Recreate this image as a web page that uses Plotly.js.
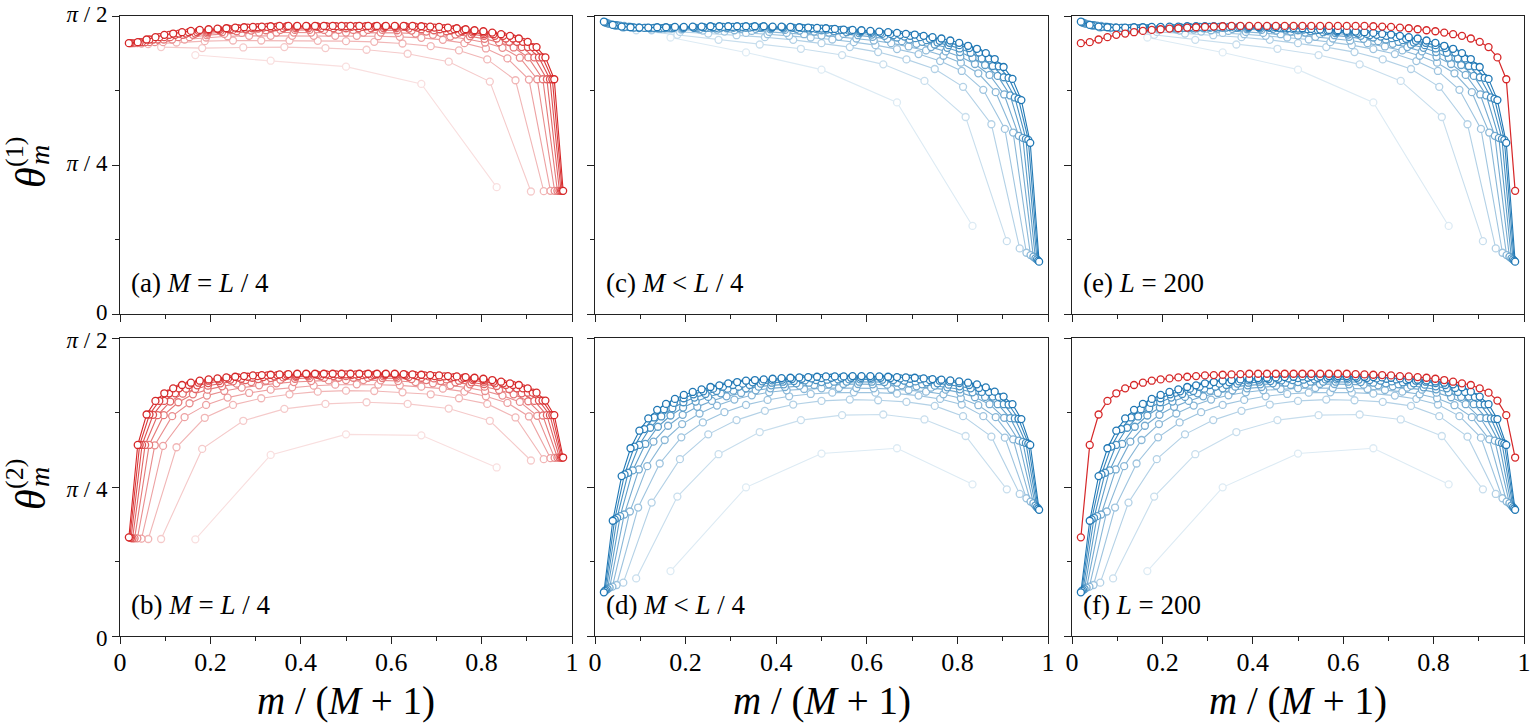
<!DOCTYPE html>
<html>
<head>
<meta charset="utf-8">
<script src="https://cdn.plot.ly/plotly-3.0.1.min.js"></script>
<style>html,body{margin:0;padding:0;background:#fff;}#chart{width:1538px;height:724px;}</style>
</head>
<body>
<div id="chart"></div>
<script>
// number of modes M in each series (x = m/(M+1), m = 1..M)
const M_VALUES = [5, 10, 15, 20, 25, 30, 35, 40, 45, 50];

// ---- theta^(1), M = L/4 (red), values in degrees ----
const r1_5  = [78.2, 76.5, 74.7, 69.5, 38.3];
const r1_10 = [80.6, 80.3, 80.5, 80.6, 80.3, 79.8, 78.6, 76.2, 70.2, 37.0];
const r1_15 = [81.5, 82.0, 82.4, 82.6, 82.6, 82.6, 82.5, 82.4, 82.2, 81.7,
               80.9, 79.6, 76.9, 70.6, 37.1];
const r1_20 = [81.7, 82.1, 82.9, 83.5, 83.9, 84.0, 84.0, 84.0, 84.0, 84.0,
               84.0, 83.9, 83.7, 83.4, 82.8, 81.8, 80.2, 77.2, 70.8, 37.2];
const r1_25 = [81.8, 82.1, 82.9, 83.6, 84.2, 84.6, 84.9, 85.0, 85.0, 85.0,
               85.0, 85.0, 85.0, 85.0, 85.0, 84.9, 84.7, 84.3, 83.8, 83.0,
               82.0, 80.4, 77.4, 70.9, 37.2];
const r1_30 = [81.8, 82.1, 82.9, 83.6, 84.3, 84.7, 85.1, 85.4, 85.6, 85.7,
               85.8, 85.8, 85.8, 85.8, 85.8, 85.8, 85.8, 85.8, 85.7, 85.6,
               85.3, 84.9, 84.4, 83.9, 83.1, 82.1, 80.5, 77.5, 70.9, 37.2];
const r1_35 = [81.8, 82.1, 82.9, 83.6, 84.3, 84.7, 85.1, 85.5, 85.8, 86.0,
               86.2, 86.3, 86.3, 86.3, 86.3, 86.3, 86.3, 86.3, 86.3, 86.3,
               86.3, 86.3, 86.2, 86.0, 85.7, 85.4, 85.0, 84.5, 84.0, 83.2,
               82.2, 80.6, 77.5, 70.9, 37.2];
const r1_40 = [81.8, 82.1, 82.9, 83.6, 84.3, 84.7, 85.1, 85.5, 85.8, 86.0,
               86.2, 86.3, 86.5, 86.6, 86.7, 86.7, 86.7, 86.7, 86.7, 86.7,
               86.7, 86.7, 86.7, 86.7, 86.7, 86.7, 86.5, 86.3, 86.0, 85.7,
               85.4, 85.0, 84.5, 84.0, 83.2, 82.2, 80.6, 77.5, 70.9, 37.2];
const r1_45 = [81.8, 82.1, 82.9, 83.6, 84.3, 84.7, 85.1, 85.5, 85.8, 86.0,
               86.2, 86.3, 86.5, 86.6, 86.7, 86.8, 86.9, 86.9, 86.9, 86.9,
               86.9, 86.9, 86.9, 86.9, 86.9, 86.9, 86.9, 86.9, 86.9, 86.8,
               86.7, 86.5, 86.3, 86.0, 85.7, 85.4, 85.0, 84.5, 84.0, 83.2,
               82.2, 80.6, 77.5, 70.9, 37.2];
const r1_50 = [81.8, 82.1, 82.9, 83.6, 84.3, 84.7, 85.1, 85.5, 85.8, 86.0,
               86.2, 86.3, 86.5, 86.6, 86.7, 86.8, 86.9, 87.0, 87.0, 87.0,
               87.0, 87.0, 87.0, 87.0, 87.0, 87.0, 87.0, 87.0, 87.0, 87.0,
               87.0, 87.0, 87.0, 86.9, 86.8, 86.7, 86.5, 86.3, 86.0, 85.7,
               85.4, 85.0, 84.5, 84.0, 83.2, 82.2, 80.6, 77.5, 70.9, 37.2];

// ---- theta^(2), M = L/4 (red) ----
const r2_5  = [29.2, 54.7, 60.9, 60.6, 50.9];
const r2_10 = [29.3, 56.5, 65.0, 68.6, 70.1, 70.6, 70.1, 68.7, 65.0, 53.0];
const r2_15 = [29.3, 57.0, 65.9, 69.8, 71.8, 73.0, 73.8, 74.1, 74.0, 73.6,
               73.0, 71.8, 70.1, 66.0, 53.4];
const r2_20 = [29.4, 57.4, 66.1, 69.8, 72.0, 73.4, 74.4, 75.1, 75.6, 75.9,
               76.0, 75.9, 75.7, 75.3, 74.7, 73.8, 72.4, 70.4, 66.3, 53.7];
const r2_25 = [29.5, 57.6, 66.4, 70.3, 72.6, 74.0, 75.0, 75.7, 76.3, 76.7,
               77.0, 77.2, 77.3, 77.3, 77.2, 77.0, 76.7, 76.3, 75.7, 75.0,
               74.0, 72.6, 70.7, 66.5, 53.8];
const r2_30 = [29.5, 57.7, 66.7, 70.6, 73.0, 74.4, 75.4, 76.2, 76.7, 77.1,
               77.4, 77.7, 77.9, 78.0, 78.0, 78.0, 78.0, 77.9, 77.8, 77.6,
               77.3, 77.0, 76.6, 76.0, 75.3, 74.3, 73.0, 70.9, 66.6, 53.9];
const r2_35 = [29.5, 57.7, 66.7, 70.8, 73.2, 74.6, 75.6, 76.3, 76.9, 77.3,
               77.6, 77.9, 78.1, 78.3, 78.4, 78.5, 78.5, 78.5, 78.5, 78.5,
               78.4, 78.3, 78.2, 78.0, 77.8, 77.5, 77.1, 76.6, 76.1, 75.5,
               74.6, 73.3, 71.0, 66.7, 53.9];
const r2_40 = [29.6, 57.7, 66.8, 71.0, 73.3, 74.7, 75.7, 76.4, 77.0, 77.4,
               77.7, 78.0, 78.2, 78.4, 78.5, 78.6, 78.7, 78.8, 78.8, 78.8,
               78.8, 78.8, 78.8, 78.8, 78.7, 78.6, 78.5, 78.4, 78.2, 78.0,
               77.7, 77.3, 76.8, 76.3, 75.8, 74.8, 73.5, 71.1, 66.7, 53.9];
const r2_45 = [29.7, 57.7, 66.9, 71.0, 73.3, 74.8, 75.8, 76.5, 77.1, 77.5,
               77.8, 78.1, 78.3, 78.5, 78.7, 78.8, 78.9, 79.0, 79.0, 79.0,
               79.0, 79.0, 79.0, 79.0, 79.0, 79.0, 79.0, 79.0, 78.9, 78.8,
               78.7, 78.5, 78.4, 78.2, 78.0, 77.7, 77.3, 76.8, 76.3, 75.8,
               74.8, 73.5, 71.1, 66.7, 53.9];
const r2_50 = [29.8, 57.7, 66.9, 71.0, 73.3, 74.8, 75.8, 76.5, 77.1, 77.5,
               77.8, 78.1, 78.3, 78.5, 78.7, 78.8, 78.9, 79.0, 79.1, 79.2,
               79.2, 79.2, 79.2, 79.2, 79.2, 79.2, 79.2, 79.2, 79.2, 79.2,
               79.2, 79.1, 79.0, 78.9, 78.8, 78.7, 78.5, 78.4, 78.2, 78.0,
               77.7, 77.3, 76.8, 76.3, 75.8, 74.8, 73.5, 71.1, 66.7, 53.9];

// ---- theta^(1), M < L/4, L = 200 (blue) ----
const b1_5  = [83.5, 79.0, 73.8, 63.9, 26.6];
const b1_10 = [85.7, 84.3, 82.8, 81.4, 80.1, 78.2, 75.4, 70.4, 59.5, 22.0];
const b1_15 = [86.4, 85.7, 85.2, 84.7, 84.2, 83.6, 82.8, 81.8, 80.6, 79.1,
               76.9, 74.0, 68.6, 57.3, 19.8];
const b1_20 = [87.0, 86.5, 86.1, 85.9, 85.6, 85.3, 84.9, 84.5, 84.0, 83.5,
               82.9, 82.1, 81.2, 80.0, 78.5, 76.4, 73.4, 67.7, 55.9, 18.5];
const b1_25 = [87.4, 86.8, 86.4, 86.2, 86.1, 86.0, 85.9, 85.7, 85.5, 85.2,
               84.9, 84.5, 84.1, 83.7, 83.2, 82.6, 81.8, 80.8, 79.6, 78.0,
               75.9, 72.7, 67.0, 54.8, 17.8];
const b1_30 = [87.6, 87.0, 86.5, 86.3, 86.3, 86.3, 86.3, 86.3, 86.3, 86.2,
               86.1, 86.0, 85.8, 85.6, 85.3, 85.0, 84.6, 84.2, 83.7, 83.1,
               82.4, 81.6, 80.6, 79.3, 77.7, 75.5, 72.2, 66.3, 53.8, 17.3];
const b1_35 = [87.8, 87.1, 86.6, 86.4, 86.3, 86.3, 86.3, 86.4, 86.4, 86.4,
               86.4, 86.4, 86.4, 86.3, 86.2, 86.1, 85.9, 85.7, 85.4, 85.1,
               84.8, 84.4, 84.0, 83.5, 82.9, 82.2, 81.4, 80.4, 79.1, 77.4,
               75.2, 71.9, 66.0, 53.2, 16.8];
const b1_40 = [88.0, 87.2, 86.7, 86.4, 86.3, 86.3, 86.3, 86.4, 86.4, 86.4,
               86.4, 86.5, 86.5, 86.5, 86.5, 86.5, 86.5, 86.4, 86.3, 86.1,
               85.9, 85.7, 85.5, 85.2, 84.9, 84.6, 84.2, 83.8, 83.3, 82.7,
               82.0, 81.2, 80.2, 78.9, 77.2, 74.9, 71.5, 65.4, 52.9, 16.5];
const b1_45 = [88.1, 87.2, 86.7, 86.5, 86.4, 86.4, 86.4, 86.5, 86.5, 86.5,
               86.6, 86.6, 86.7, 86.7, 86.7, 86.7, 86.7, 86.6, 86.6, 86.5,
               86.4, 86.3, 86.2, 86.0, 85.8, 85.6, 85.4, 85.2, 84.9, 84.6,
               84.3, 84.0, 83.6, 83.1, 82.5, 81.9, 81.2, 80.3, 79.0, 77.2,
               74.8, 71.3, 65.0, 52.6, 16.1];
const b1_50 = [88.3, 87.3, 86.8, 86.6, 86.5, 86.5, 86.6, 86.6, 86.7, 86.7,
               86.8, 86.8, 86.9, 86.9, 86.9, 86.9, 86.9, 86.9, 86.9, 86.8,
               86.8, 86.7, 86.6, 86.5, 86.4, 86.3, 86.1, 85.9, 85.8, 85.7,
               85.5, 85.3, 85.1, 84.9, 84.6, 84.4, 84.0, 83.6, 83.2, 82.6,
               81.9, 81.0, 80.1, 78.8, 77.0, 74.6, 71.0, 64.6, 51.7, 15.8];

// ---- theta^(2), M < L/4, L = 200 (blue) ----
const b2_5  = [19.6, 44.9, 55.1, 56.7, 45.8];
const b2_10 = [17.4, 42.1, 54.9, 61.6, 65.2, 66.7, 66.9, 65.4, 60.4, 44.3];
const b2_15 = [16.1, 40.3, 53.4, 60.9, 65.2, 68.0, 69.9, 71.0, 71.4, 71.2,
               70.7, 69.5, 66.4, 60.2, 42.9];
const b2_20 = [15.4, 38.8, 52.1, 60.0, 64.5, 67.6, 69.8, 71.3, 72.4, 73.1,
               73.5, 73.6, 73.5, 73.2, 72.6, 71.6, 69.9, 66.4, 59.9, 41.6];
const b2_25 = [14.9, 37.6, 51.3, 59.2, 64.0, 67.2, 69.6, 71.4, 72.7, 73.6,
               74.2, 74.6, 74.8, 74.9, 74.9, 74.8, 74.6, 74.3, 73.8, 73.0,
               71.8, 69.7, 66.1, 59.4, 40.6];
const b2_30 = [14.6, 36.7, 50.3, 58.7, 63.5, 66.8, 69.2, 71.0, 72.4, 73.4,
               74.2, 74.8, 75.2, 75.6, 75.8, 76.0, 76.1, 76.1, 76.0, 75.9,
               75.7, 75.4, 75.0, 74.4, 73.5, 72.1, 70.0, 65.9, 59.0, 40.1];
const b2_35 = [14.2, 36.2, 50.0, 58.0, 63.2, 66.6, 69.0, 70.8, 72.2, 73.3,
               74.1, 74.8, 75.3, 75.7, 76.0, 76.3, 76.5, 76.7, 76.8, 76.8,
               76.8, 76.8, 76.7, 76.5, 76.3, 76.0, 75.6, 75.1, 74.5, 73.6,
               72.2, 70.0, 65.8, 58.6, 39.4];
const b2_40 = [13.9, 35.7, 49.3, 57.7, 62.9, 66.3, 68.8, 70.6, 72.0, 73.1,
               74.0, 74.7, 75.3, 75.8, 76.2, 76.5, 76.8, 77.0, 77.2, 77.3,
               77.4, 77.5, 77.5, 77.5, 77.5, 77.4, 77.3, 77.1, 76.9, 76.6,
               76.3, 75.9, 75.4, 74.8, 73.7, 72.3, 70.0, 65.7, 58.3, 38.9];
const b2_45 = [13.6, 35.2, 48.8, 57.2, 62.5, 66.0, 68.5, 70.4, 71.8, 73.0,
               73.9, 74.7, 75.3, 75.8, 76.2, 76.6, 76.9, 77.2, 77.4, 77.6,
               77.7, 77.8, 77.9, 78.0, 78.0, 78.0, 78.0, 78.0, 78.0, 77.9,
               77.8, 77.7, 77.5, 77.3, 77.1, 76.8, 76.4, 75.8, 74.9, 73.7,
               72.2, 69.9, 65.6, 58.1, 38.5];
const b2_50 = [13.2, 34.8, 48.3, 56.7, 62.0, 65.7, 68.3, 70.1, 71.6, 72.8,
               73.7, 74.5, 75.2, 75.7, 76.3, 76.7, 77.1, 77.3, 77.5, 77.7,
               77.9, 78.0, 78.1, 78.2, 78.3, 78.4, 78.4, 78.4, 78.5, 78.5,
               78.5, 78.4, 78.3, 78.2, 78.1, 78.0, 77.8, 77.6, 77.4, 77.2,
               76.9, 76.5, 76.0, 75.1, 73.8, 72.3, 70.0, 65.5, 57.7, 38.1];

const TH1_RED  = [r1_5, r1_10, r1_15, r1_20, r1_25, r1_30, r1_35, r1_40, r1_45, r1_50];
const TH2_RED  = [r2_5, r2_10, r2_15, r2_20, r2_25, r2_30, r2_35, r2_40, r2_45, r2_50];
const TH1_BLUE = [b1_5, b1_10, b1_15, b1_20, b1_25, b1_30, b1_35, b1_40, b1_45, b1_50];
const TH2_BLUE = [b2_5, b2_10, b2_15, b2_20, b2_25, b2_30, b2_35, b2_40, b2_45, b2_50];

const XTICK_VALS = [0, 0.2, 0.4, 0.6, 0.8, 1];
const XTICK_TEXT = ['0', '0.2', '0.4', '0.6', '0.8', '1'];
const XMINOR_VALS = [0.1, 0.3, 0.5, 0.7, 0.9];
const YTICK_VALS = [0, 45, 90];
const YTICK_TEXT = ['0', '<i>π</i> / 4', '<i>π</i> / 2'];
const YMINOR_VALS = [22.5, 67.5];
const PANEL_LABELS = ['(a) <i>M</i> = <i>L</i> / 4', '(c) <i>M</i> < <i>L</i> / 4', '(e) <i>L</i> = 200',
                      '(b) <i>M</i> = <i>L</i> / 4', '(d) <i>M</i> < <i>L</i> / 4', '(f) <i>L</i> = 200'];

const FONT = 'Liberation Serif, Times New Roman, serif';
const RED = [214, 39, 40], BLUE = [31, 119, 180];

function tint(rgb, a) {
  return 'rgb(' + rgb.map(c => Math.round(255 - (255 - c) * a)).join(',') + ')';
}
function trace(vals, M, col, xa, ya, lw) {
  return {
    type: 'scatter', mode: 'lines+markers', xaxis: xa, yaxis: ya,
    x: vals.map((_, j) => (j + 1) / (M + 1)), y: vals,
    line: { color: col, width: lw },
    marker: { symbol: 'circle', size: 7, color: '#ffffff', line: { color: col, width: 1.3 } },
    hoverinfo: 'skip', showlegend: false
  };
}
function family(list, rgb, xa, ya) {
  return list.map((vals, i) => trace(vals, M_VALUES[i], tint(rgb, 0.15 + 0.85 * i / (list.length - 1)), xa, ya, 1.1));
}

const data = [].concat(
  family(TH1_RED, RED, 'x', 'y'),
  family(TH1_BLUE, BLUE, 'x2', 'y2'),
  family(TH1_BLUE, BLUE, 'x3', 'y3'),
  [trace(r1_50, 50, tint(RED, 1), 'x3', 'y3', 1.2)],
  family(TH2_RED, RED, 'x4', 'y4'),
  family(TH2_BLUE, BLUE, 'x5', 'y5'),
  family(TH2_BLUE, BLUE, 'x6', 'y6'),
  [trace(r2_50, 50, tint(RED, 1), 'x6', 'y6', 1.2)]
);

const W = 1538, H = 724;
const XD = [[120 / W, 572 / W], [595 / W, 1048 / W], [1072 / W, 1524 / W]];
const YD = [[(H - 314) / H, (H - 16) / H], [(H - 636) / H, (H - 338) / H]];

function xAxis(dom, anchor, labels) {
  return {
    domain: dom, anchor: anchor, range: [0, 1], fixedrange: true,
    showline: true, mirror: true, linecolor: '#222', linewidth: 1,
    showgrid: false, zeroline: false,
    tickmode: 'array', tickvals: XTICK_VALS, ticktext: XTICK_TEXT,
    ticks: 'outside', ticklen: 7, tickwidth: 1, tickcolor: '#222',
    ticklabelstandoff: -4,
    showticklabels: labels, tickfont: { family: FONT, size: 26, color: '#000' },
    minor: { tickmode: 'array', tickvals: XMINOR_VALS, ticks: 'outside', ticklen: 4, tickwidth: 1, tickcolor: '#222', showgrid: false }
  };
}
function yAxis(dom, anchor, labels, shift) {
  return {
    domain: dom, anchor: anchor, range: [0, 90], fixedrange: true,
    showline: true, mirror: true, linecolor: '#222', linewidth: 1,
    showgrid: false, zeroline: false,
    tickmode: 'array', tickvals: YTICK_VALS, ticktext: YTICK_TEXT,
    ticks: 'outside', ticklen: 7, tickwidth: 1, tickcolor: '#222',
    ticklabelshift: shift, ticklabeloverflow: 'allow',
    showticklabels: labels, tickfont: { family: FONT, size: 23, color: '#000' },
    minor: { tickmode: 'array', tickvals: YMINOR_VALS, ticks: 'outside', ticklen: 4, tickwidth: 1, tickcolor: '#222', showgrid: false }
  };
}

const layout = {
  width: W, height: H, margin: { l: 0, r: 0, t: 0, b: 0 },
  paper_bgcolor: '#fff', plot_bgcolor: '#fff', showlegend: false,
  font: { family: FONT, color: '#000' },
  xaxis:  xAxis(XD[0], 'y',  false), yaxis:  yAxis(YD[0], 'x',  true, -2),
  xaxis2: xAxis(XD[1], 'y2', false), yaxis2: yAxis(YD[0], 'x2', false, 0),
  xaxis3: xAxis(XD[2], 'y3', false), yaxis3: yAxis(YD[0], 'x3', false, 0),
  xaxis4: xAxis(XD[0], 'y4', true),  yaxis4: yAxis(YD[1], 'x4', true, 2),
  xaxis5: xAxis(XD[1], 'y5', true),  yaxis5: yAxis(YD[1], 'x5', false, 0),
  xaxis6: xAxis(XD[2], 'y6', true),  yaxis6: yAxis(YD[1], 'x6', false, 0),
  annotations: []
};

const axNames = ['', '2', '3', '4', '5', '6'];
PANEL_LABELS.forEach((t, i) => {
  layout.annotations.push({
    text: t, xref: 'x' + axNames[i] + ' domain', yref: 'y' + axNames[i] + ' domain',
    x: 0.02, y: 0.105, xanchor: 'left', yanchor: 'middle', showarrow: false,
    font: { family: FONT, size: 27, color: '#000' }
  });
});
// x-axis titles
XD.forEach(d => {
  layout.annotations.push({
    text: '<i>m</i> / (<i>M</i> + 1)', xref: 'paper', yref: 'paper',
    x: (d[0] + d[1]) / 2, y: (H - 701) / H, xanchor: 'center', yanchor: 'middle',
    showarrow: false, borderpad: 0, font: { family: FONT, size: 39, color: '#000' }
  });
});
// y-axis titles: theta with stacked sub/superscripts
[['(1)', 0], ['(2)', 322]].forEach(([sup, dy]) => {
  layout.annotations.push({
    text: '<i>θ</i>', xref: 'paper', yref: 'paper', x: 31 / W, y: (H - (178 + dy)) / H,
    xanchor: 'center', yanchor: 'middle', textangle: -90, showarrow: false,
    font: { family: FONT, size: 42, color: '#000' }
  });
  layout.annotations.push({
    text: '<i>m</i>', xref: 'paper', yref: 'paper', x: 39 / W, y: (H - (155 + dy)) / H,
    xanchor: 'center', yanchor: 'middle', textangle: -90, showarrow: false,
    font: { family: FONT, size: 28, color: '#000' }
  });
  layout.annotations.push({
    text: sup, xref: 'paper', yref: 'paper', x: 14 / W, y: (H - (152 + dy)) / H,
    xanchor: 'center', yanchor: 'middle', textangle: -90, showarrow: false,
    font: { family: FONT, size: 26, color: '#000' }
  });
});

Plotly.newPlot('chart', data, layout, { displayModeBar: false, staticPlot: true });
</script>
</body>
</html>
